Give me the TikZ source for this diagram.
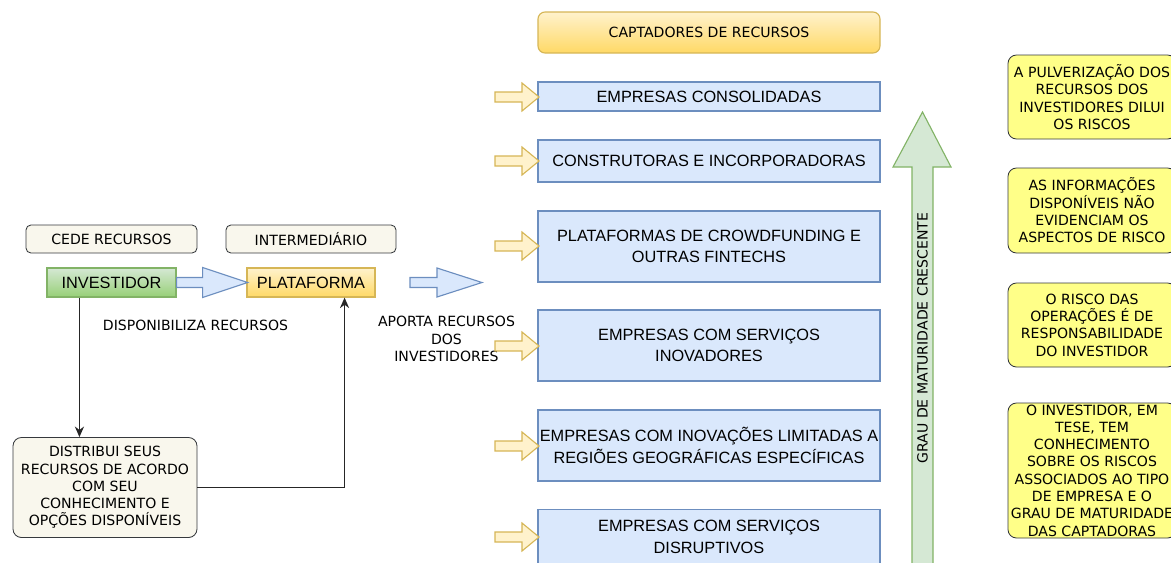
\documentclass[tikz,border=0pt]{standalone}
\usepackage{fontspec}
\setmainfont{Liberation Sans}
\newfontfamily\labelfont{DejaVu Sans}
\usetikzlibrary{arrows.meta}

\definecolor{bluefill}{HTML}{DAE8FC}
\definecolor{blueline}{HTML}{6C8EBF}
\definecolor{yelfill}{HTML}{FFF2CC}
\definecolor{yeldark}{HTML}{FFD966}
\definecolor{yelline}{HTML}{D6B656}
\definecolor{grnfill}{HTML}{D5E8D4}
\definecolor{grndark}{HTML}{97D077}
\definecolor{grnline}{HTML}{82B366}
\definecolor{notefill}{HTML}{FFFF88}
\definecolor{tagfill}{HTML}{F9F7ED}
\definecolor{greyline}{HTML}{36393D}

% flat block arrow: style, start point, length, head length, shaft half, head half
\newcommand{\flatarrow}[6]{%
  \draw[#1] #2 ++(0,-#5) -- ++({#3-#4},0) -- ++(0,{#5-#6}) -- ++(#4,#6)
    -- ++(-#4,#6) -- ++(0,{#5-#6}) -- ++({#4-#3},0) -- cycle;}

\tikzset{
  boxsize/.style 2 args={minimum width=#1*0.025cm, minimum height=#2*0.025cm},
  smalltxt/.style={font=\labelfont\fontsize{10}{12.3}\selectfont, align=center},
  bigtxt/.style={font=\fontsize{11.6}{15.4}\selectfont, align=center},
  tagbox/.style={smalltxt, draw=greyline, fill=tagfill, rounded corners=3.5pt,
    inner sep=0pt, line width=0.6pt},
  notebox/.style={smalltxt, draw=greyline, fill=notefill, rounded corners=6pt,
    inner sep=0pt, line width=0.6pt, boxsize={168}{84}},
  company/.style={bigtxt, draw=blueline, fill=bluefill, inner sep=0pt,
    line width=0.8pt, boxsize={342}{71}},
  yelbox/.style={draw=yelline, top color=yelfill, bottom color=yeldark,
    inner sep=0pt, line width=0.8pt},
  grnbox/.style={draw=grnline, top color=grnfill, bottom color=grndark,
    inner sep=0pt, line width=0.8pt},
  bluearrow/.style={draw=blueline, fill=bluefill, line width=0.8pt},
  yelarrow/.style={draw=yelline, fill=yelfill, line width=0.8pt},
  grnarrow/.style={draw=grnline, fill=grnfill, line width=0.8pt},
  link/.style={draw=black!85, line width=1pt, -{Stealth[length=7.5pt,width=6.5pt]}}
}

\begin{document}
\begin{tikzpicture}[x=0.025cm, y=-0.025cm]
  \useasboundingbox (0,0) rectangle (1171,562);

  % left side
  \node[tagbox, boxsize={171}{28}] (cede)  at (111.5,239) {CEDE RECURSOS};
  \node[tagbox, boxsize={170}{28}] (inter) at (311,239)   {INTERMEDIÁRIO};
  \node[grnbox, bigtxt, boxsize={129}{29}] (inv)  at (111.5,282.5) {INVESTIDOR};
  \node[yelbox, bigtxt, boxsize={128}{29}] (plat) at (311,282.5)   {PLATAFORMA};
  \node[tagbox, rounded corners=6pt, boxsize={184}{100}] (distr) at (105,487.5)
    {DISTRIBUI SEUS\\RECURSOS DE ACORDO\\COM SEU\\CONHECIMENTO E\\OPÇÕES DISPONÍVEIS};
  \node[smalltxt] (disp) at (195.5,325) {DISPONIBILIZA RECURSOS};
  \node[smalltxt] (aporta) at (446.5,339) {APORTA RECURSOS\\DOS\\INVESTIDORES};

  \flatarrow{bluearrow}{(inv.east)}{71}{45}{5}{15}
  \flatarrow{bluearrow}{(410,282.5)}{72}{45}{5}{14.5}

  \path (inv.south west) ++(33,0) coordinate (invdown);
  \path (plat.south east) ++(-31,0) coordinate (platup);
  \draw[link] (invdown) -- (invdown |- distr.north);
  \draw[link] (distr.east) -| (platup);

  % captadores
  \node[yelbox, smalltxt, rounded corners=5pt, boxsize={342}{41}] (capt) at (709,32.5)
    {CAPTADORES DE RECURSOS};
  \node[company, boxsize={342}{29}] (emp1) at (709,96.5) {EMPRESAS CONSOLIDADAS};
  \node[company, boxsize={342}{42}] (emp2) at (709,161) {CONSTRUTORAS E INCORPORADORAS};
  \node[company] (emp3) at (709,246.5) {PLATAFORMAS DE CROWDFUNDING E\\OUTRAS FINTECHS};
  \node[company] (emp4) at (709,345.5) {EMPRESAS COM SERVIÇOS\\INOVADORES};
  \node[company] (emp5) at (709,445.5) {EMPRESAS COM INOVAÇÕES LIMITADAS A\\REGIÕES GEOGRÁFICAS ESPECÍFICAS};
  \node[company, boxsize={342}{72}, anchor=north] (emp6) at (709,509) {};
  \node[bigtxt] (emp6txt) at (709,537) {EMPRESAS COM SERVIÇOS\\DISRUPTIVOS};

  \foreach \y in {97,161,246,346,446,537}
    \flatarrow{yelarrow}{(495,\y)}{44}{17}{5}{14};

  % maturidade
  \draw[grnarrow] (912,600) -- (912,167) -- (893,167) -- (922.5,112)
    -- (951,167) -- (933,167) -- (933,600) -- cycle;
  \node[smalltxt, rotate=90] (grau) at (922.5,338) {GRAU DE MATURIDADE CRESCENTE};

  % riscos
  \node[notebox] (risco1) at (1092,97)
    {A PULVERIZAÇÃO DOS\\RECURSOS DOS\\INVESTIDORES DILUI\\OS RISCOS};
  \node[notebox, boxsize={168}{85}] (risco2) at (1092,210.5)
    {AS INFORMAÇÕES\\DISPONÍVEIS NÃO\\EVIDENCIAM OS\\ASPECTOS DE RISCO};
  \node[notebox] (risco3) at (1092,325)
    {O RISCO DAS\\OPERAÇÕES É DE\\RESPONSABILIDADE\\DO INVESTIDOR};
  \node[notebox, boxsize={168}{135}] (risco4) at (1092,470.5)
    {O INVESTIDOR, EM\\TESE, TEM\\CONHECIMENTO\\SOBRE OS RISCOS\\ASSOCIADOS AO TIPO\\DE EMPRESA E O\\GRAU DE MATURIDADE\\DAS CAPTADORAS};
\end{tikzpicture}
\end{document}
